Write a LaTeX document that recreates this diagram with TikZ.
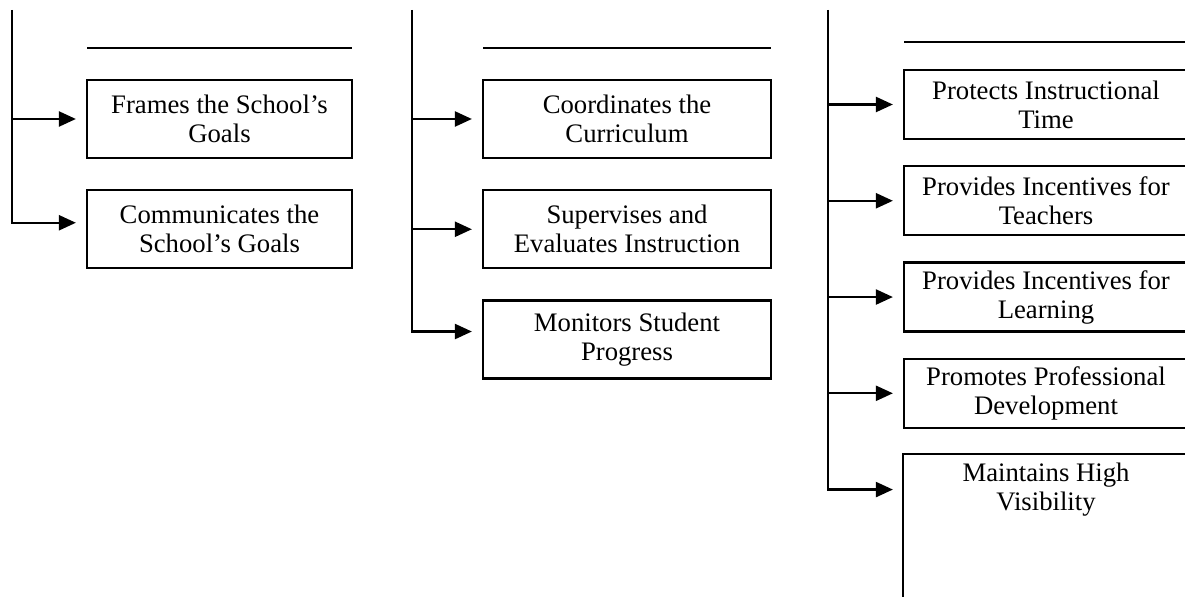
\documentclass[tikz,border=0pt]{standalone}
\usepackage{fontspec}
\setmainfont{Liberation Serif}
\usetikzlibrary{arrows.meta,positioning,calc}

\begin{document}
\begin{tikzpicture}[x=0.02cm, y=-0.02cm,
    goalbox/.style={draw, line width=1.3pt, align=center, inner sep=2pt,
        font=\fontsize{15.2}{16.5}\selectfont},
    headline/.style={line width=1.3pt},
    branch/.style={line width=1.3pt, -{Triangle[length=0.34cm, width=0.3cm]}, shorten >=0.2cm}]

\useasboundingbox (0,0) rectangle (1185,597);
\clip (0,0) rectangle (1185,597);

% Defines the School's Mission
\coordinate (top1) at (12,10);
\draw[headline] (87,48) -- (352,48);
\node[goalbox, minimum width=5.3cm, minimum height=1.56cm] (frame) at (219.5,119) {Frames the School's\\Goals};
\node[goalbox, minimum width=5.3cm, minimum height=1.56cm, below=0.6cm of frame] (comm) {Communicates the\\School's Goals};
\draw[branch] (top1 |- frame.west) -- (frame.west);
\draw[branch] (top1) |- ([yshift=0.13cm]comm.west);

% Manages the Instructional Program
\coordinate (top2) at (412,10);
\draw[headline] (483,48) -- (771,48);
\node[goalbox, minimum width=5.76cm, minimum height=1.56cm] (curric) at (627,119) {Coordinates the\\Curriculum};
\node[goalbox, minimum width=5.76cm, minimum height=1.56cm, below=0.6cm of curric] (superv) {Supervises and\\Evaluates Instruction};
\node[goalbox, minimum width=5.76cm, minimum height=1.56cm, below=0.6cm of superv] (monit) {Monitors Student\\Progress};
\draw[branch] (top2 |- curric.west) -- (curric.west);
\draw[branch] (top2 |- superv.west) -- (superv.west);
\draw[branch] (top2) |- ([yshift=0.16cm]monit.west);

% Promotes a Positive School Learning Climate
\coordinate (top3) at (828,10);
\draw[headline] (904,42) -- (1190,42);
\node[goalbox, minimum width=5.68cm, minimum height=1.38cm] (protect) at (1046,104.5) {Protects Instructional\\Time};
\node[goalbox, minimum width=5.68cm, minimum height=1.38cm, below=0.5cm of protect] (teach) {Provides Incentives for\\Teachers};
\node[goalbox, minimum width=5.68cm, minimum height=1.38cm, below=0.5cm of teach] (learn) {Provides Incentives for\\Learning};
\node[goalbox, minimum width=5.68cm, minimum height=1.38cm, below=0.5cm of learn] (profdev) {Promotes Professional\\Development};
\node[goalbox, draw=none, minimum width=5.68cm, minimum height=1.38cm, below=0.5cm of profdev] (visib) {Maintains High\\Visibility};
% last box runs off the page
\draw[headline] ($(visib.north west)+(0,-3cm)$) -- (visib.north west) -- (visib.north east) -- ++(0,-3cm);
\draw[branch] (top3 |- protect.west) -- (protect.west);
\draw[branch] (top3 |- teach.west) -- (teach.west);
\draw[branch] (top3 |- learn.west) -- (learn.west);
\draw[branch] (top3 |- profdev.west) -- (profdev.west);
\draw[branch] (top3) |- (visib.west);

\end{tikzpicture}
\end{document}
